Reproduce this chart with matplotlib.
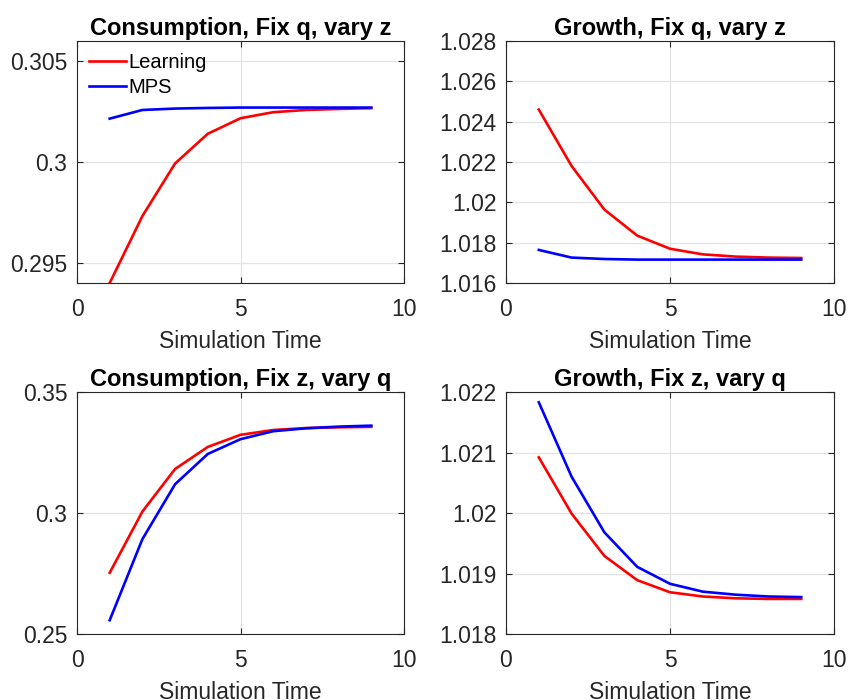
import numpy as np
from matplotlib import pyplot as plt

plt.rcParams['font.family'] = ['Liberation Sans', 'DejaVu Sans']

t = [1, 2, 3, 4, 5, 6, 7, 8, 9]

# Consumption, fix q, vary z
cons_qz_learn = [0.2940, 0.29732, 0.29993, 0.30140, 0.30217, 0.30247, 0.30258, 0.30263, 0.30267]
cons_qz_mps = [0.30215, 0.30258, 0.30265, 0.30268, 0.30270, 0.30270, 0.30270, 0.30270, 0.30270]
# Growth, fix q, vary z
grow_qz_learn = [1.02460, 1.02180, 1.01964, 1.01835, 1.01770, 1.01742, 1.01731, 1.01726, 1.01724]
grow_qz_mps = [1.01764, 1.01726, 1.01719, 1.01716, 1.01716, 1.01716, 1.01716, 1.01716, 1.01716]
# Consumption, fix z, vary q
cons_zq_learn = [0.2753, 0.3006, 0.3182, 0.3273, 0.3323, 0.3343, 0.3351, 0.3354, 0.3356]
cons_zq_mps = [0.2557, 0.2892, 0.3119, 0.3244, 0.3305, 0.3338, 0.3350, 0.3357, 0.3361]
# Growth, fix z, vary q
grow_zq_learn = [1.02092, 1.01999, 1.01929, 1.01889, 1.01869, 1.01862, 1.01859, 1.01858, 1.01858]
grow_zq_mps = [1.02183, 1.02060, 1.01968, 1.01911, 1.01883, 1.01870, 1.01865, 1.01862, 1.01861]

panels = [
    ("Consumption, Fix q, vary z", cons_qz_learn, cons_qz_mps, (0.294, 0.306), [0.295, 0.3, 0.305], ['0.295', '0.3', '0.305']),
    ("Growth, Fix q, vary z", grow_qz_learn, grow_qz_mps, (1.016, 1.028), [1.016, 1.018, 1.02, 1.022, 1.024, 1.026, 1.028],
     ['1.016', '1.018', '1.02', '1.022', '1.024', '1.026', '1.028']),
    ("Consumption, Fix z, vary q", cons_zq_learn, cons_zq_mps, (0.25, 0.35), [0.25, 0.3, 0.35], ['0.25', '0.3', '0.35']),
    ("Growth, Fix z, vary q", grow_zq_learn, grow_zq_mps, (1.018, 1.022), [1.018, 1.019, 1.02, 1.021, 1.022],
     ['1.018', '1.019', '1.02', '1.021', '1.022']),
]

W, H = 848, 700
boxes = [(77, 41, 404, 283), (506, 41, 834, 283), (77, 392, 404, 634), (506, 392, 834, 634)]

fig = plt.figure(figsize=(W / 100, H / 100), dpi=100)
dark = '#262626'
for i, (title, learn, mps, ylim, yt, ytl) in enumerate(panels):
    x0, y0, x1, y1 = boxes[i]
    ax = fig.add_axes([x0 / W, 1 - y1 / H, (x1 - x0) / W, (y1 - y0) / H])
    ax.plot(t, learn, color='red', lw=1.9, label='Learning')
    ax.plot(t, mps, color='blue', lw=1.9, label='MPS')
    ax.set_xlim(0, 10)
    ax.set_ylim(*ylim)
    ax.set_xticks([0, 5, 10])
    ax.set_yticks(yt)
    ax.set_yticklabels(ytl)
    ax.grid(True, color='#e3e3e3', lw=0.9)
    ax.set_axisbelow(True)
    ax.tick_params(direction='in', top=True, right=True, labelsize=16.5, colors=dark, length=4, pad=7)
    ax.tick_params(axis='x', pad=11)
    for s in ax.spines.values():
        s.set_color(dark)
        s.set_linewidth(0.8)
    ax.set_title(title, fontsize=17, fontweight='bold', pad=4)
    ax.set_xlabel('Simulation Time', fontsize=16.5, color=dark, labelpad=6)
    if i == 0:
        ax.legend(loc='upper left', frameon=False, fontsize=14.5, handlelength=1.85, handletextpad=0.12,
                  borderaxespad=0.4, labelspacing=0.3, borderpad=0.2)

fig.savefig('out.png', dpi=100)
